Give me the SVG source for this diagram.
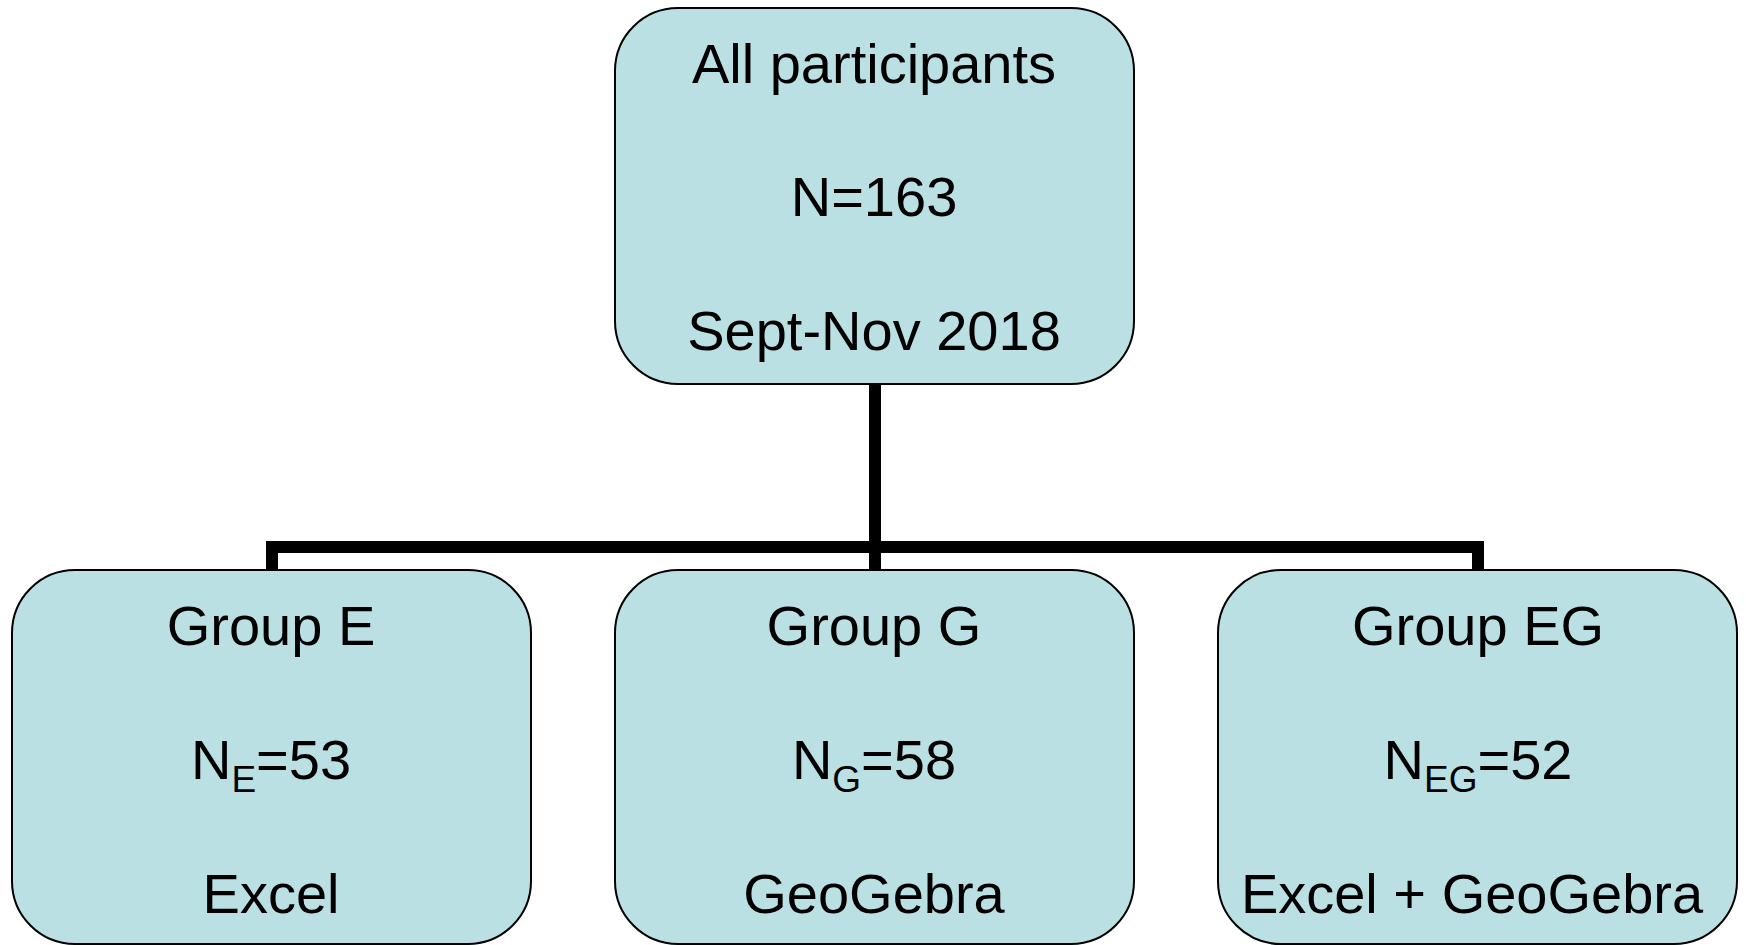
<svg xmlns="http://www.w3.org/2000/svg" width="1746" height="945" viewBox="0 0 1746 945">
<style>
.box{fill:#BAE0E3;stroke:#000;stroke-width:2}
.t{font-family:"Liberation Sans",Arial,sans-serif;font-size:56px;fill:#000;text-anchor:middle}
.sub{font-size:37px}
.conn{fill:none;stroke:#000;stroke-width:12;stroke-linejoin:miter}
</style>
<rect width="1746" height="945" fill="#fff"/>
<g id="connectors">
<path class="conn" d="M875 384 V547"/>
<path class="conn" d="M272 570 V547 H1478 V570"/>
<path class="conn" d="M875 547 V570"/>
</g>
<g id="all">
<rect class="box" x="615" y="8" width="519" height="376" rx="63" ry="63"/>
<text class="t" x="874" y="83">All participants</text>
<text class="t" x="874" y="216">N=163</text>
<text class="t" x="874" y="350">Sept-Nov 2018</text>
</g>
<g id="groupE">
<rect class="box" x="12" y="570" width="519" height="374" rx="63" ry="63"/>
<text class="t" x="271" y="645">Group E</text>
<text class="t" x="271" y="779">N<tspan class="sub" dy="13">E</tspan><tspan dy="-13">=53</tspan></text>
<text class="t" x="271" y="913">Excel</text>
</g>
<g id="groupG">
<rect class="box" x="615" y="570" width="519" height="374" rx="63" ry="63"/>
<text class="t" x="874" y="645">Group G</text>
<text class="t" x="874" y="779">N<tspan class="sub" dy="13">G</tspan><tspan dy="-13">=58</tspan></text>
<text class="t" x="874" y="913">GeoGebra</text>
</g>
<g id="groupEG">
<rect class="box" x="1218" y="570" width="519" height="374" rx="63" ry="63"/>
<text class="t" x="1478" y="645">Group EG</text>
<text class="t" x="1478" y="779">N<tspan class="sub" dy="13">EG</tspan><tspan dy="-13">=52</tspan></text>
<text class="t" x="1472" y="913">Excel + GeoGebra</text>
</g>
</svg>
